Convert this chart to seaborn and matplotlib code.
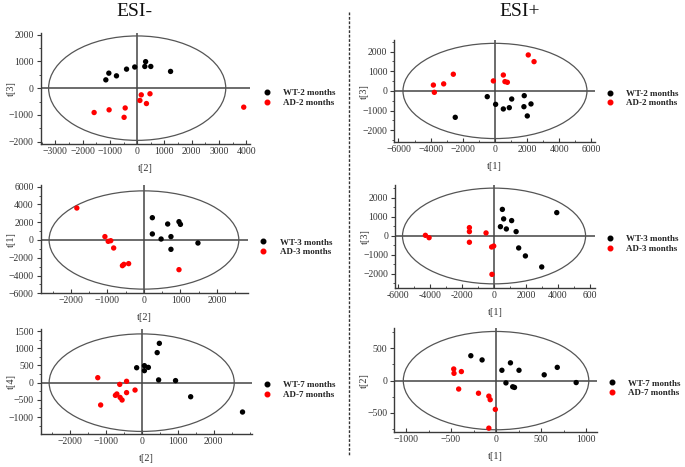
import numpy as np
import pandas as pd
import matplotlib
matplotlib.use("Agg")
import matplotlib.pyplot as plt
import seaborn as sns
from matplotlib.patches import Ellipse
from matplotlib.ticker import AutoMinorLocator, FixedLocator
from matplotlib.lines import Line2D

# ---------------- data ----------------
section_titles = ["ESI-", "ESI+"]
months = ["2 months", "3 months", "7 months"]

# ESI- 2 months  (x = t[2], y = t[3])
neg2_wt_x = [-1150, -1040, -760, -390, -90, 280, 310, 500, 1225]
neg2_wt_y = [310, 560, 460, 710, 790, 810, 990, 810, 625]
neg2_ad_x = [-1580, -1030, -440, -480, 150, 470, 100, 340, 3910]
neg2_ad_y = [-910, -810, -740, -1090, -250, -210, -460, -575, -710]

# ESI+ 2 months  (x = t[1], y = t[3])
pos2_wt_x = [-480, 40, 520, 890, 1040, 1820, 1800, 2240, 2010, -2470]
pos2_wt_y = [-290, -680, -915, -850, -410, -240, -800, -660, -1270, -1340]
pos2_ad_x = [2070, 2430, -2590, -3190, -3830, -3770, -100, 520, 620, 770]
pos2_ad_y = [1830, 1490, 850, 360, 300, -70, 510, 810, 475, 440]

# ESI- 3 months  (x = t[2], y = t[1])
neg3_wt_x = [230, 230, 470, 650, 960, 1000, 740, 740, 1480]
neg3_wt_y = [2510, 680, 110, 1800, 2060, 1760, 380, -1050, -340]
neg3_ad_x = [-1840, -1070, -980, -910, -830, -590, -550, -420, 960]
neg3_ad_y = [3600, 380, -150, -80, -900, -2890, -2740, -2660, -3340]

# ESI+ 3 months  (x = t[1], y = t[3])
pos3_wt_x = [520, 600, 1100, 400, 770, 1380, 3920, 1540, 1960, 2980]
pos3_wt_y = [1400, 900, 810, 490, 370, 230, 1230, -630, -1050, -1630]
pos3_ad_x = [-4290, -4060, -1540, -1540, -1540, -500, -150, -20, -130]
pos3_ad_y = [35, -90, 440, 230, -330, 160, -580, -530, -2020]

# ESI- 7 months  (x = t[2], y = t[4])
neg7_wt_x = [490, 430, -140, 75, 185, 75, 470, 940, 1360, 2800]
neg7_wt_y = [1145, 875, 435, 495, 445, 350, 80, 60, -410, -855]
neg7_ad_x = [-1220, -1140, -610, -420, -730, -690, -600, -545, -420, -185]
neg7_ad_y = [145, -650, -50, 40, -370, -330, -430, -505, -290, -215]

# ESI+ 7 months  (x = t[1], y = t[2])
pos7_wt_x = [-280, -155, 65, 160, 255, 110, 185, 205, 535, 680, 890]
pos7_wt_y = [385, 320, 160, 275, 160, -35, -95, -105, 90, 205, -30]
pos7_ad_x = [-470, -467, -385, -415, -195, -80, -65, -8, -80]
pos7_ad_y = [180, 113, 140, -130, -195, -240, -295, -445, -735]

x_labels = ["t[2]", "t[1]", "t[2]", "t[1]", "t[2]", "t[1]"]
y_labels = ["t[3]", "t[3]", "t[1]", "t[3]", "t[4]", "t[2]"]

# Hotelling ellipse half-axes
ell_a = [3250, 5720, 2600, 5720, 2570, 1030]
ell_b = [1950, 2420, 5530, 2520, 1420, 760]

x_ticks = [[-3000, -2000, -1000, 0, 1000, 2000, 3000, 4000],
           [-6000, -4000, -2000, 0, 2000, 4000, 6000],
           [-2000, -1000, 0, 1000, 2000],
           [-6000, -4000, -2000, 0, 2000, 4000, 6000],
           [-2000, -1000, 0, 1000, 2000],
           [-1000, -500, 0, 500, 1000]]
x_tick_labels = [None, None, None,
                 ["-6000", "-4000", "-2000", "0", "2000", "4000", "600"],
                 None, None]
y_ticks = [[-2000, -1000, 0, 1000, 2000],
           [-2000, -1000, 0, 1000, 2000],
           [-6000, -4000, -2000, 0, 2000, 4000, 6000],
           [-2000, -1000, 0, 1000, 2000],
           [-1500, -1000, -500, 0, 500, 1000, 1500],
           [-500, 0, 500]]

xlims = [(-3540, 4140), (-6260, 6220), (-2830, 2860),
         (-6190, 6310), (-2805, 3055), (-1130, 1118)]
ylims = [(-2086, 2060), (-2610, 2590), (-6000, 6190),
         (-2754, 2684), (-1495, 1563), (-799, 809)]

panels = [
    (neg2_wt_x, neg2_wt_y, neg2_ad_x, neg2_ad_y, months[0]),
    (pos2_wt_x, pos2_wt_y, pos2_ad_x, pos2_ad_y, months[0]),
    (neg3_wt_x, neg3_wt_y, neg3_ad_x, neg3_ad_y, months[1]),
    (pos3_wt_x, pos3_wt_y, pos3_ad_x, pos3_ad_y, months[1]),
    (neg7_wt_x, neg7_wt_y, neg7_ad_x, neg7_ad_y, months[2]),
    (pos7_wt_x, pos7_wt_y, pos7_ad_x, pos7_ad_y, months[2]),
]

# ---------------- layout (pixels) ----------------
W, H = 685, 467
axes_px = [  # left, right, top, bottom
    (40.7, 250.0, 33.0, 144.0),
    (394.3, 595.0, 40.0, 142.3),
    (40.7, 248.3, 185.0, 293.3),
    (395.0, 595.0, 185.0, 288.3),
    (40.7, 251.7, 329.0, 434.0),
    (394.3, 596.7, 328.3, 432.3),
]
legend_px = [(267, 98), (610, 98.5), (263.3, 247.3),
             (610, 243.8), (266.7, 390), (611.7, 388.3)]

sns.set_style("white")
plt.rcParams['font.family'] = ['Liberation Serif', 'DejaVu Serif']

fig = plt.figure(figsize=(W / 100, H / 100), dpi=100)
fig.patch.set_facecolor("white")

axis_col = "#3a3a3a"
for i, (wx, wy, ax_, ay_, mon) in enumerate(panels):
    l, r, t, b = axes_px[i]
    ax = fig.add_axes([l / W, 1 - b / H, (r - l) / W, (b - t) / H])
    wt_lab = f"WT-{mon}"
    ad_lab = f"AD-{mon}"
    df = pd.DataFrame({
        "x": list(wx) + list(ax_),
        "y": list(wy) + list(ay_),
        "group": [wt_lab] * len(wx) + [ad_lab] * len(ax_),
    })
    # zero lines and ellipse
    ax.axhline(0, color="#444444", lw=1.1, zorder=1)
    ax.axvline(0, color="#444444", lw=1.1, zorder=1)
    ax.add_patch(Ellipse((0, 0), 2 * ell_a[i], 2 * ell_b[i], fill=False,
                         edgecolor="#555555", lw=0.9, zorder=1))
    sns.scatterplot(data=df, x="x", y="y", hue="group",
                    palette={wt_lab: "#000000", ad_lab: "#ff0000"},
                    s=15, linewidth=0, ax=ax, zorder=3)
    ax.set_xlim(*xlims[i])
    ax.set_ylim(*ylims[i])
    ax.xaxis.set_major_locator(FixedLocator(x_ticks[i]))
    ax.yaxis.set_major_locator(FixedLocator(y_ticks[i]))
    if x_tick_labels[i] is not None:
        ax.set_xticklabels(x_tick_labels[i])
    ax.xaxis.set_minor_locator(AutoMinorLocator(2))
    ax.yaxis.set_minor_locator(AutoMinorLocator(2))
    for s in ["top", "right"]:
        ax.spines[s].set_visible(False)
    for s in ["left", "bottom"]:
        ax.spines[s].set_color(axis_col)
        ax.spines[s].set_linewidth(1.0)
    ax.tick_params(axis="both", which="major", labelsize=7, colors=axis_col,
                   length=3, width=0.8, pad=2, left=True, bottom=True)
    ax.tick_params(axis="x", which="both", direction="in")
    ax.tick_params(axis="y", which="both", direction="out")
    ax.tick_params(axis="both", which="minor", length=1.8, width=0.6,
                   colors=axis_col, left=True, bottom=True)
    for lab in ax.get_xticklabels() + ax.get_yticklabels():
        lab.set_color("#333333")
    axw, axh = r - l, b - t
    ax.set_xlabel(x_labels[i], fontsize=7.5, color="#333333")
    ax.set_ylabel(y_labels[i], fontsize=7.5, color="#333333")
    ax.xaxis.set_label_coords(0.5, -20 / axh)
    ax.yaxis.set_label_coords(-25 / axw, 0.5)
    ax.set_facecolor("none")

    # legend
    handles = [Line2D([], [], marker="o", ls="none", color="#000000", markersize=3.3),
               Line2D([], [], marker="o", ls="none", color="#ff0000", markersize=3.3)]
    lx, ly = legend_px[i]
    fs = 6.5
    leg = ax.legend(handles, [wt_lab, ad_lab], loc="center left",
                    bbox_to_anchor=((lx - fs * 1.389 * 0.5) / W, 1 - ly / H),
                    bbox_transform=fig.transFigure, frameon=False,
                    prop={"family": "Liberation Serif", "weight": "bold", "size": fs},
                    handlelength=1.0, handletextpad=1.3, labelspacing=0.15,
                    borderpad=0, borderaxespad=0)

# section titles
fig.text(134 / W, 1 - 11 / H, section_titles[0], ha="center", va="center",
         fontsize=14, family="Liberation Serif", color="#111111")
fig.text(520 / W, 1 - 11 / H, section_titles[1], ha="center", va="center",
         fontsize=14, family="Liberation Serif", color="#111111")

# dashed divider
fig.add_artist(Line2D([349 / W, 349 / W], [1 - 12 / H, 1 - 455 / H],
                      transform=fig.transFigure, color="#333333",
                      lw=1.0, ls=(0, (2, 1.2))))

fig.savefig("out.png", dpi=100, facecolor="white")
